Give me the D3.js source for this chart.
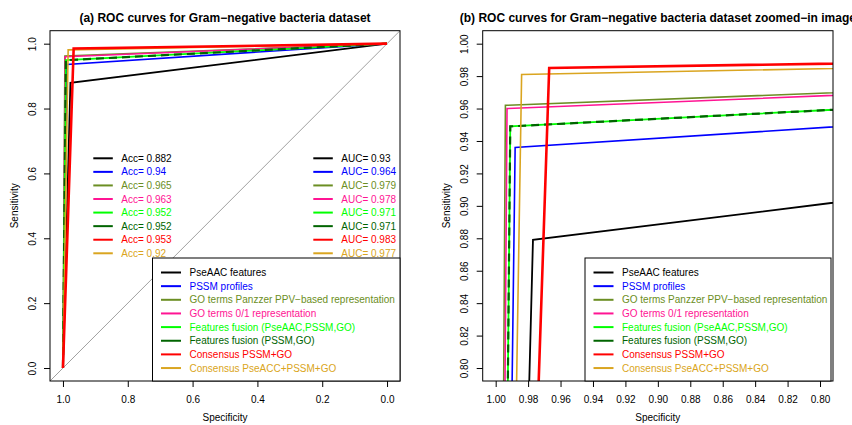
<!DOCTYPE html>
<html>
<head>
<meta charset="utf-8">
<script src="https://d3js.org/d3.v7.min.js"></script>
<style>
  body { margin: 0; background: #fff; }
  text { font-family: "Liberation Sans", Arial, sans-serif; }
</style>
</head>
<body>
<script>
// data
const methods = ["PseAAC features", "PSSM profiles", "GO terms Panzzer PPV\u2212based representation",
  "GO terms 0/1 representation", "Features fusion (PseAAC,PSSM,GO)", "Features fusion (PSSM,GO)",
  "Consensus PSSM+GO", "Consensus PseACC+PSSM+GO"];
const colors = ["#000000", "#0000ff", "#6b8e23", "#ff1493", "#00ff00", "#006400", "#ff0000", "#daa520"];
const specPoint = [0.977, 0.988, 0.994, 0.993, 0.991, 0.991, 0.967, 0.984];
const sensPoint = [0.879, 0.936, 0.962, 0.960, 0.949, 0.949, 0.985, 0.981];
const accLabels = ["0.882", "0.94", "0.965", "0.963", "0.952", "0.952", "0.953", "0.92"];
const aucLabels = ["0.93", "0.964", "0.979", "0.978", "0.971", "0.971", "0.983", "0.977"];
const ticksA = [1.0, 0.8, 0.6, 0.4, 0.2, 0.0];
const ticksB = [1.00, 0.98, 0.96, 0.94, 0.92, 0.90, 0.88, 0.86, 0.84, 0.82, 0.80];

// line styles per curve
const widths = [1.8, 1.6, 1.6, 1.6, 1.8, 2.2, 2.6, 1.6];
const dashes = [null, null, null, null, null, "8,5", null, null];

const svg = d3.select("body").append("svg")
  .attr("width", 852).attr("height", 425);

function drawPanel(p) {
  const x = d3.scaleLinear().domain(p.xdom).range([p.left, p.right]);
  const y = d3.scaleLinear().domain(p.ydom).range([p.bottom, p.top]);
  const g = svg.append("g");

  g.append("clipPath").attr("id", p.id)
    .append("rect")
    .attr("x", p.left).attr("y", p.top)
    .attr("width", p.right - p.left).attr("height", p.bottom - p.top);

  const plot = g.append("g").attr("clip-path", `url(#${p.id})`);

  // chance diagonal
  plot.append("line")
    .attr("x1", x(1.04)).attr("y1", y(-0.04))
    .attr("x2", x(-0.04)).attr("y2", y(1.04))
    .attr("stroke", "#888").attr("stroke-width", 0.8);

  const line = d3.line().x(d => x(d[0])).y(d => y(d[1]));
  const order = [0, 1, 2, 3, 4, 5, 7, 6];
  order.forEach(i => {
    const pts = [[1, 0], [specPoint[i], sensPoint[i]], [0, 1]];
    plot.append("path")
      .attr("d", line(pts))
      .attr("fill", "none")
      .attr("stroke", colors[i])
      .attr("stroke-width", widths[i])
      .attr("stroke-dasharray", dashes[i])
      .attr("stroke-linejoin", "miter");
  });

  // axes
  const xa = g.append("g")
    .attr("transform", `translate(0,${p.bottom})`)
    .call(d3.axisBottom(x).tickValues(p.ticks).tickFormat(p.fmt)
      .tickSize(6).tickSizeOuter(0).tickPadding(8.8));
  const ya = g.append("g")
    .attr("transform", `translate(${p.left},0)`)
    .call(d3.axisLeft(y).tickValues(p.ticks).tickFormat(p.fmt)
      .tickSize(6).tickSizeOuter(0));
  [xa, ya].forEach(a => {
    a.select(".domain").remove();
    a.selectAll("text").attr("font-size", 10).attr("fill", "#000")
      .attr("font-family", "Liberation Sans, Arial, sans-serif");
    a.selectAll("line").attr("stroke", "#000");
  });
  ya.selectAll("text")
    .attr("x", 0).attr("dy", 0)
    .attr("text-anchor", "middle")
    .attr("transform", "translate(-14.5,0) rotate(-90)");

  g.append("rect")
    .attr("x", p.left).attr("y", p.top)
    .attr("width", p.right - p.left).attr("height", p.bottom - p.top)
    .attr("fill", "none").attr("stroke", "#000").attr("stroke-width", 1);

  // titles
  g.append("text")
    .attr("x", (p.left + p.right) / 2).attr("y", 21.5)
    .attr("text-anchor", "middle")
    .attr("font-size", 12).attr("font-weight", "bold")
    .text(p.title);
  g.append("text")
    .attr("x", (p.left + p.right) / 2).attr("y", 421)
    .attr("text-anchor", "middle").attr("font-size", 10)
    .text("Specificity");
  g.append("text")
    .attr("transform", `translate(${p.left - 32.5},${(p.top + p.bottom) / 2}) rotate(-90)`)
    .attr("text-anchor", "middle").attr("font-size", 10)
    .text("Sensitivity");

  // main legend
  const lg = g.append("g");
  lg.append("rect")
    .attr("x", p.legX).attr("y", 258)
    .attr("width", p.legW).attr("height", p.bottom - 258)
    .attr("fill", "#fff").attr("stroke", "#000").attr("stroke-width", 1);
  methods.forEach((m, i) => {
    const ry = 272.5 + i * 13.65;
    lg.append("line")
      .attr("x1", p.legX + 8.5).attr("x2", p.legX + 28.5)
      .attr("y1", ry).attr("y2", ry)
      .attr("stroke", colors[i]).attr("stroke-width", 2);
    lg.append("text")
      .attr("x", p.legX + 37).attr("y", ry).attr("dy", "0.35em")
      .attr("font-size", 10).attr("fill", colors[i])
      .text(m);
  });

  return { x, y, g };
}

const panelA = drawPanel({
  id: "clipA", left: 50, right: 400, top: 30.7, bottom: 381,
  xdom: [1.04, -0.04], ydom: [-0.04, 1.04], ticks: ticksA, fmt: d3.format(".1f"),
  title: "(a) ROC curves for Gram\u2212negative bacteria dataset",
  legX: 152.5, legW: 247.5
});

drawPanel({
  id: "clipB", left: 482.7, right: 833, top: 30.7, bottom: 381,
  xdom: [1.008, 0.792], ydom: [0.792, 1.008], ticks: ticksB, fmt: d3.format(".2f"),
  title: "(b) ROC curves for Gram\u2212negative bacteria dataset zoomed\u2212in image",
  legX: 585, legW: 246
});

// Acc / AUC legends in panel (a)
function smallLegend(x0, prefix, labels) {
  labels.forEach((v, i) => {
    const ry = 158.3 + i * 13.57;
    panelA.g.append("line")
      .attr("x1", x0).attr("x2", x0 + 19.5)
      .attr("y1", ry).attr("y2", ry)
      .attr("stroke", colors[i]).attr("stroke-width", 2);
    panelA.g.append("text")
      .attr("x", x0 + 28).attr("y", ry).attr("dy", "0.35em")
      .attr("font-size", 10).attr("fill", colors[i])
      .text(prefix + v);
  });
}
smallLegend(93.3, "Acc= ", accLabels);
smallLegend(313.3, "AUC= ", aucLabels);
</script>
</body>
</html>
